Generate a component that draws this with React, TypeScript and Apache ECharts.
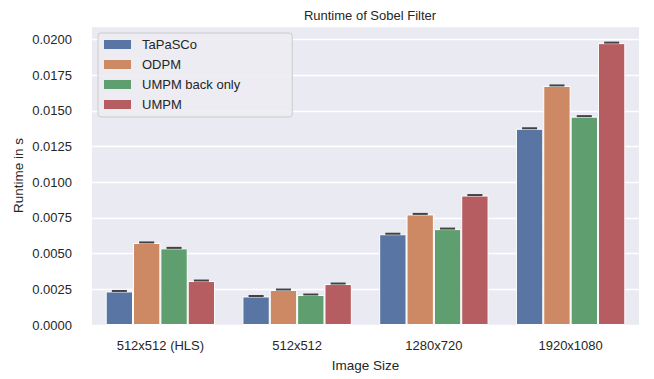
import React, { useEffect, useRef } from "react";
import * as echarts from "echarts";

const categories = ["512x512 (HLS)", "512x512", "1280x720", "1920x1080"];
const seriesNames = ["TaPaSCo", "ODPM", "UMPM back only", "UMPM"];
const tapasco = [0.00235, 0.002, 0.00636, 0.01375];
const odpm = [0.00575, 0.00245, 0.00775, 0.01675];
const umpmBack = [0.00537, 0.0021, 0.00672, 0.0146];
const umpm = [0.00308, 0.00287, 0.00907, 0.01975];
const colors = ["#5975a4", "#cc8963", "#5f9e6e", "#b55d60"];

const FONT = "Liberation Sans";

export default function App() {
  const ref = useRef<HTMLDivElement>(null);
  useEffect(() => {
    if (!ref.current) return;
    const chart = echarts.init(ref.current, undefined, { renderer: "svg" });
    const all = [tapasco, odpm, umpmBack, umpm];
    const errData: number[][] = [];
    all.forEach((arr, si) => arr.forEach((v, ci) => errData.push([ci, v, si])));
    chart.setOption({
      animation: false,
      backgroundColor: "#ffffff",
      title: {
        text: "Runtime of Sobel Filter",
        left: 365,
        textAlign: "center",
        top: 4,
        textStyle: { fontFamily: FONT, fontSize: 13, fontWeight: "normal", color: "#262626" },
      },
      legend: {
        orient: "vertical",
        left: 98,
        top: 33,
        data: seriesNames,
        icon: "rect",
        itemWidth: 27,
        itemHeight: 9,
        itemGap: 7,
        padding: [5, 52, 6, 6],
        backgroundColor: "rgba(236,236,242,0.9)",
        borderColor: "#cccccc",
        borderWidth: 1,
        borderRadius: 3,
        itemStyle: { borderWidth: 0 },
        textStyle: { fontFamily: FONT, fontSize: 13, color: "#262626", padding: [0, 0, 0, 6] },
      },
      grid: {
        left: 92,
        top: 26,
        right: 15,
        bottom: 54,
        show: true,
        backgroundColor: "#eaeaf2",
        borderWidth: 0,
      },
      xAxis: {
        type: "category",
        data: categories,
        name: "Image Size",
        nameLocation: "middle",
        nameGap: 33,
        nameMoveOverlap: false,
        nameTextStyle: { fontFamily: FONT, fontSize: 13.5, color: "#262626" },
        axisLine: { show: false },
        axisTick: { show: false },
        axisLabel: { fontFamily: FONT, fontSize: 13, color: "#262626", margin: 14 },
        splitLine: { show: false },
      },
      yAxis: {
        type: "value",
        min: 0,
        max: 0.02095,
        interval: 0.0025,
        name: "Runtime in s",
        nameLocation: "middle",
        nameGap: 67,
        nameMoveOverlap: false,
        nameTextStyle: { fontFamily: FONT, fontSize: 13.5, color: "#262626" },
        axisLine: { show: false },
        axisTick: { show: false },
        axisLabel: {
          fontFamily: FONT,
          fontSize: 13,
          color: "#262626",
          margin: 20,
          showMaxLabel: false,
          formatter: (v: number) => {
            const k = v / 0.0025;
            return Math.abs(k - Math.round(k)) < 1e-6 ? v.toFixed(4) : "";
          },
        },
        splitLine: { show: true, lineStyle: { color: "#ffffff", width: 1.3 } },
      },
      series: [
        ...all.map((arr, i) => ({
          name: seriesNames[i],
          type: "bar",
          data: arr,
          barGap: "0%",
          barCategoryGap: "20%",
          itemStyle: { color: colors[i], borderColor: "#ffffff", borderWidth: 1 },
        })),
        {
          type: "custom",
          z: 5,
          data: errData,
          encode: { x: 0, y: 1 },
          renderItem: (params: any, api: any) => {
            const p = api.coord([api.value(0), api.value(1)]);
            const cw = api.size([1, 0])[0];
            const bw = (cw * 0.8) / 4;
            const cx = p[0] + (api.value(2) - 1.5) * bw;
            const w = bw * 0.55;
            return {
              type: "rect",
              shape: { x: cx - w / 2, y: p[1] - 1.5, width: w, height: 2 },
              style: { fill: "#424242" },
            };
          },
        },
      ],
    });
    return () => chart.dispose();
  }, []);
  return (
    <div
      ref={ref}
      style={{ position: "fixed", left: 0, top: 0, width: 654, height: 379 }}
    />
  );
}
